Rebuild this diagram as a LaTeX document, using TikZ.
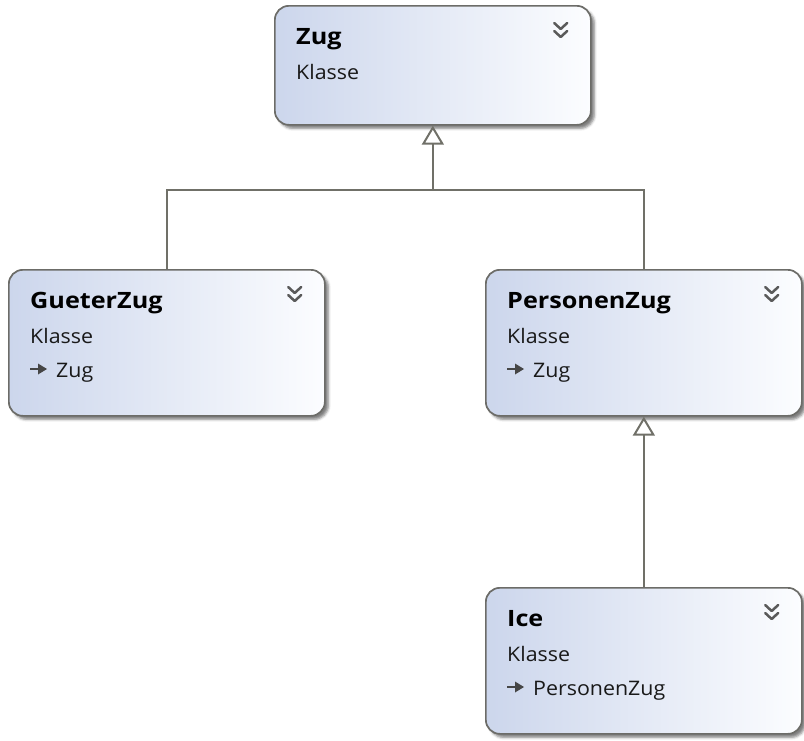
\documentclass[tikz,border=0pt]{standalone}
\usepackage{fontspec}
\setmainfont{Open Sans}[FakeStretch=1.07]
\newfontfamily\titlefont{Open Sans}[FakeStretch=1.12]
\usetikzlibrary{arrows.meta,shadows.blur}
\definecolor{boxL}{RGB}{204,214,236}
\definecolor{boxR}{RGB}{252,253,255}
\definecolor{boxB}{RGB}{108,108,104}
\definecolor{connc}{RGB}{112,112,104}
\definecolor{chevc}{RGB}{90,90,90}
\definecolor{txtc}{RGB}{25,25,25}
\definecolor{iconc}{RGB}{70,70,70}
\tikzset{
  cls/.style={rectangle, rounded corners=14pt, draw=boxB, line width=1.7pt,
    left color=boxL, right color=boxR, inner sep=0pt, anchor=north west,
    minimum width=316pt, minimum height=146pt,
    blur shadow={shadow xshift=3.5pt, shadow yshift=-3.5pt, shadow blur radius=2.5pt, shadow opacity=50}},
  ttl/.style={anchor=base west, inner sep=0pt, font=\titlefont\bfseries\fontsize{22.5}{26}\selectfont, text=black},
  sub/.style={anchor=base west, inner sep=0pt, font=\fontsize{20}{24}\selectfont, text=txtc},
  connl/.style={draw=connc, line width=2pt},
  inh/.style={connl, -{Triangle[open, fill=white, length=19pt, width=22pt]}},
  chevs/.style={draw=chevc, line width=2.5pt, line cap=round, line join=round},
  chevron/.pic={
    \draw[chevs] (-6.5pt,8pt) -- (0pt,2pt) -- (6.5pt,8pt);
    \draw[chevs] (-6.5pt,0pt) -- (0pt,-6pt) -- (6.5pt,0pt);
  },
  inhicon/.pic={
    \draw[draw=iconc, line width=2.4pt] (0pt,0pt) -- (10pt,0pt);
    \fill[iconc] (8pt,5.5pt) -- (17pt,0pt) -- (8pt,-5.5pt) -- cycle;
  }
}
\begin{document}
\begin{tikzpicture}[x=1pt,y=-1pt]
\useasboundingbox (0,0) rectangle (804,740);

% class boxes
\node[cls, minimum height=119pt] (zug) at (274,5) {};
\node[cls] (g) at (8,269) {};
\node[cls] (p) at (485,269) {};
\node[cls] (ice) at (485,587) {};

% Zug
\node[ttl] (zugT) at ([shift={(22pt,-39pt)}]zug.north west) {Zug};
\node[sub] (zugK) at ([shift={(22pt,-74pt)}]zug.north west) {Klasse};
\pic at ([shift={(-31pt,-26pt)}]zug.north east) {chevron};

% GueterZug
\node[ttl] (gT) at ([shift={(22pt,-39pt)}]g.north west) {GueterZug};
\node[sub] (gK) at ([shift={(22pt,-74pt)}]g.north west) {Klasse};
\coordinate (gI) at ([shift={(22pt,-100pt)}]g.north west);
\pic at (gI) {inhicon};
\node[sub] (gB) at ([shift={(48pt,-108pt)}]g.north west) {Zug};
\pic at ([shift={(-31pt,-26pt)}]g.north east) {chevron};

% PersonenZug
\node[ttl] (pT) at ([shift={(22pt,-39pt)}]p.north west) {PersonenZug};
\node[sub] (pK) at ([shift={(22pt,-74pt)}]p.north west) {Klasse};
\coordinate (pI) at ([shift={(22pt,-100pt)}]p.north west);
\pic at (pI) {inhicon};
\node[sub] (pB) at ([shift={(48pt,-108pt)}]p.north west) {Zug};
\pic at ([shift={(-31pt,-26pt)}]p.north east) {chevron};

% Ice
\node[ttl] (iT) at ([shift={(22pt,-39pt)}]ice.north west) {Ice};
\node[sub] (iK) at ([shift={(22pt,-74pt)}]ice.north west) {Klasse};
\coordinate (iI) at ([shift={(22pt,-100pt)}]ice.north west);
\pic at (iI) {inhicon};
\node[sub] (iB) at ([shift={(48pt,-108pt)}]ice.north west) {PersonenZug};
\pic at ([shift={(-31pt,-26pt)}]ice.north east) {chevron};

% connectors
\coordinate (j) at (zug.south |- 0,190);
\draw[connl] (g.north) |- (j);
\draw[connl] (p.north) |- (j);
\draw[inh] (j) -- (zug.south);
\draw[inh] (ice.north) -- (p.south);
\end{tikzpicture}
\end{document}
